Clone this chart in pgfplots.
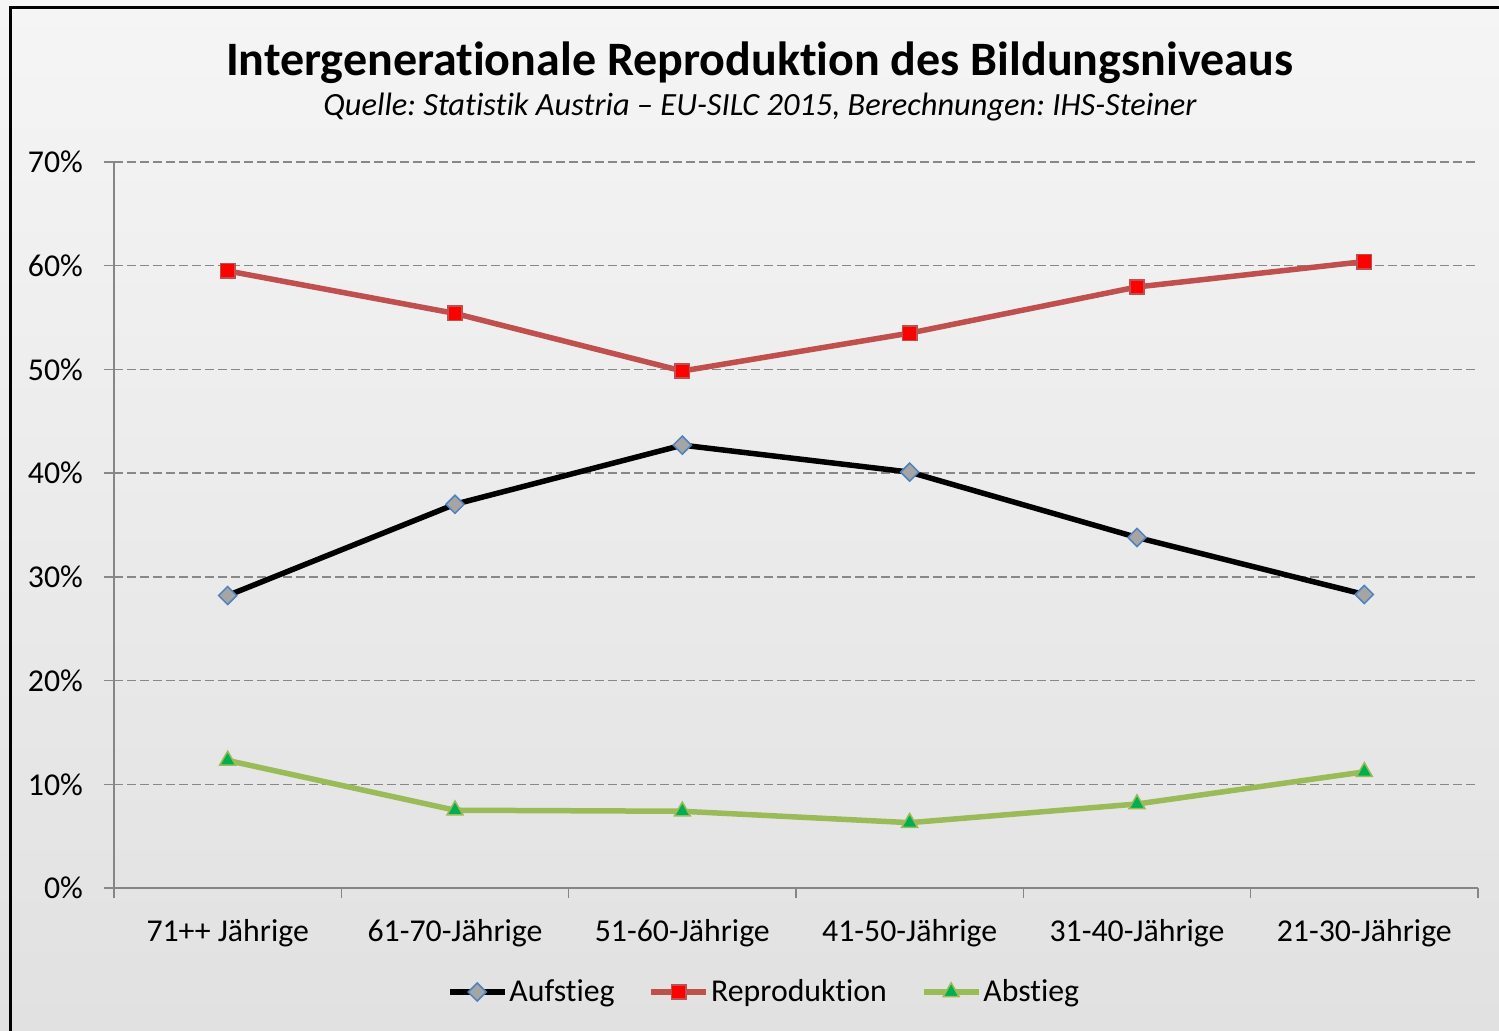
\documentclass[border=0pt]{standalone}
\usepackage{fontspec}
\setmainfont{Carlito}[Ligatures=NoCommon]
\usepackage{pgfplots}
\pgfplotsset{compat=1.18}
\usetikzlibrary{calc}
\pgfdeclarelayer{background}
\pgfsetlayers{background,main}
\definecolor{bgtop}{RGB}{246,245,246}
\definecolor{bgbot}{RGB}{226,225,226}
\definecolor{axisgray}{RGB}{134,134,134}
\definecolor{gridgray}{RGB}{136,136,136}
\definecolor{redline}{RGB}{192,80,77}
\definecolor{redfill}{RGB}{255,0,0}
\definecolor{greenline}{RGB}{155,187,89}
\definecolor{greenfill}{RGB}{0,176,80}
\definecolor{bluedge}{RGB}{79,129,189}
\definecolor{grayfill}{RGB}{165,165,165}
\begin{document}
\frenchspacing
\begin{tikzpicture}
\begin{axis}[
  scale only axis, width=682pt, height=363pt,
  xmin=-0.5, xmax=5.5, ymin=0, ymax=70,
  axis x line=bottom, axis y line=left,
  axis line style={draw=axisgray, line width=0.75pt, -},
  xtick={0,1,2,3,4,5},
  xticklabels={71++ Jährige,61-70-Jährige,51-60-Jährige,41-50-Jährige,31-40-Jährige,21-30-Jährige},
  major x tick style={draw=none},
  minor xtick={-0.5,0.5,1.5,2.5,3.5,4.5,5.5},
  minor x tick style={draw=axisgray, line width=0.75pt},
  minor tick length=5pt,
  major tick length=5pt,
  tick align=outside,
  ytick={0,10,20,30,40,50,60,70},
  yticklabels={0\%,10\%,20\%,30\%,40\%,50\%,60\%,70\%},
  major y tick style={draw=gridgray, line width=0.75pt},
  ymajorgrids,
  major grid style={draw=gridgray, dash pattern=on 4.5pt off 2pt, line width=0.75pt},
  ticklabel style={font=\fontsize{15.9}{18}\selectfont, text=black},
  xticklabel style={yshift=-7pt},
  yticklabel style={xshift=-7pt},
  legend style={at={(0.4766,-0.1433)}, anchor=center, draw=none, fill=none,
    font=\fontsize{15.9}{18}\selectfont,
    /tikz/every even column/.append style={column sep=16pt},
    nodes={inner sep=1pt}},
  legend columns=-1,
  legend image code/.code={\draw[mark repeat=2,mark phase=2,#1] plot coordinates {(0pt,0pt) (13.75pt,0pt) (27.5pt,0pt)};},
  clip=false,
]
\addplot[black, line width=2.75pt, mark=square*, mark size=3.2pt,
  mark options={rotate=45, fill=grayfill, draw=bluedge, line width=0.75pt, solid}]
  coordinates {(0,28.2) (1,37.0) (2,42.7) (3,40.1) (4,33.8) (5,28.3)};
\addlegendentry{Aufstieg}
\addplot[redline, line width=2.75pt, mark=square*, mark size=3.6pt,
  mark options={fill=redfill, draw=redline, line width=0.75pt, solid}]
  coordinates {(0,59.5) (1,55.4) (2,49.85) (3,53.5) (4,57.95) (5,60.4)};
\addlegendentry{Reproduktion}
\addplot[greenline, line width=2.75pt, mark=triangle*, mark size=4.6pt,
  mark options={fill=greenfill, draw=greenline, line width=0.75pt, solid}]
  coordinates {(0,12.3) (1,7.5) (2,7.4) (3,6.3) (4,8.1) (5,11.2)};
\addlegendentry{Abstieg}
\coordinate (O) at (axis cs:-0.5,0);
\end{axis}
\coordinate (BL) at ($(O)+(-57pt,-71pt)$);
\coordinate (TR) at ($(BL)+(749.5pt,515pt)$);
\begin{pgfonlayer}{background}
\shade[top color=bgtop, bottom color=bgbot] (BL) rectangle (TR);
\draw[line width=1.5pt, line join=miter] ($(BL)+(5.5pt,-2pt)$) -- ($(BL)+(5.5pt,511pt)$) -- ($(BL)+(751pt,511pt)$);
\end{pgfonlayer}
\node[font=\bfseries\fontsize{24}{28}\selectfont, anchor=base, inner sep=0pt] at ($(BL)+(379.75pt,477pt)$) {Intergenerationale Reproduktion des Bildungsniveaus};
\node[font=\itshape\fontsize{16.2}{18}\selectfont, anchor=base, inner sep=0pt] at ($(BL)+(380pt,457pt)$) {Quelle: Statistik Austria – EU-SILC 2015, Berechnungen: IHS-Steiner};
\pgfresetboundingbox
\useasboundingbox (BL) rectangle (TR);
\end{tikzpicture}
\end{document}
